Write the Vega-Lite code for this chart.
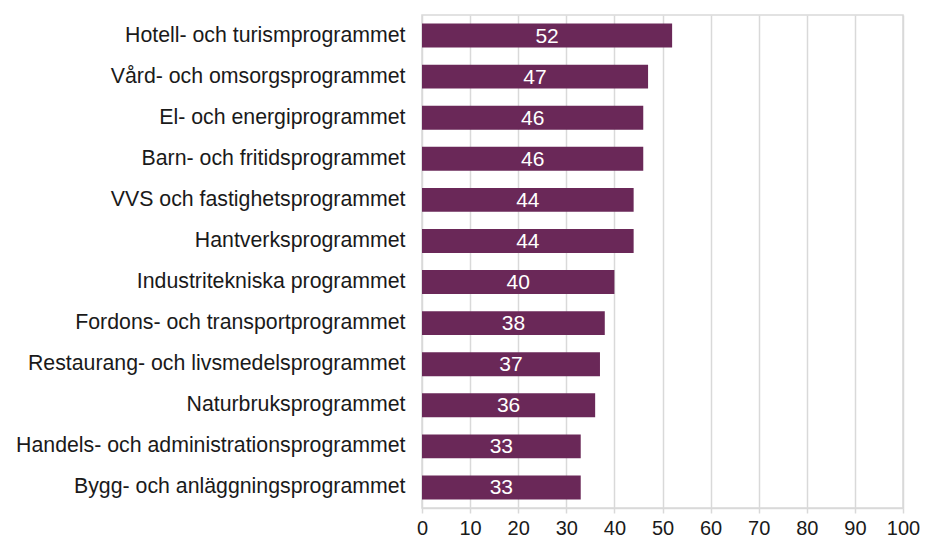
{
  "$schema": "https://vega.github.io/schema/vega-lite/v6.json",
  "width": 481,
  "height": 493,
  "autosize": {"type": "none"},
  "padding": {"left": 422, "top": 15, "right": 26, "bottom": 34},
  "background": "white",
  "config": {
    "font": "Liberation Sans",
    "view": {"stroke": "#d9d9d9", "strokeWidth": 1.5}
  },
  "data": {
    "values": [
      {"program": "Hotell- och turismprogrammet", "value": 52},
      {"program": "Vård- och omsorgsprogrammet", "value": 47},
      {"program": "El- och energiprogrammet", "value": 46},
      {"program": "Barn- och fritidsprogrammet", "value": 46},
      {"program": "VVS och fastighetsprogrammet", "value": 44},
      {"program": "Hantverksprogrammet", "value": 44},
      {"program": "Industritekniska programmet", "value": 40},
      {"program": "Fordons- och transportprogrammet", "value": 38},
      {"program": "Restaurang- och livsmedelsprogrammet", "value": 37},
      {"program": "Naturbruksprogrammet", "value": 36},
      {"program": "Handels- och administrationsprogrammet", "value": 33},
      {"program": "Bygg- och anläggningsprogrammet", "value": 33}
    ]
  },
  "encoding": {
    "y": {
      "field": "program",
      "type": "nominal",
      "sort": null,
      "scale": {"paddingInner": 0.416, "paddingOuter": 0.208},
      "axis": {
        "title": null,
        "domain": false,
        "ticks": false,
        "labelPadding": 17,
        "labelFontSize": 21.3,
        "labelColor": "#1a1a1a",
        "labelLimit": 600
      }
    }
  },
  "resolve": {"scale": {"x": "independent"}},
  "layer": [
    {
      "mark": {"type": "bar", "color": "#6A2858"},
      "encoding": {
        "x": {
          "field": "value",
          "type": "quantitative",
          "scale": {"domain": [0, 100], "nice": false},
          "axis": {
            "title": null,
            "values": [0, 10, 20, 30, 40, 50, 60, 70, 80, 90, 100],
            "grid": true,
            "gridColor": "#d9d9d9",
            "gridWidth": 1.5,
            "domainColor": "#d9d9d9",
            "domainWidth": 1.5,
            "tickColor": "#d9d9d9",
            "tickWidth": 1.5,
            "tickSize": 5,
            "labelPadding": 5,
            "labelFontSize": 20,
            "labelColor": "#1a1a1a",
            "labelFlush": false
          }
        }
      }
    },
    {
      "mark": {"type": "text", "color": "white", "fontSize": 21, "align": "center", "baseline": "middle", "dy": 1},
      "encoding": {
        "x": {
          "field": "value",
          "type": "quantitative",
          "scale": {"domain": [0, 200], "nice": false},
          "axis": null
        },
        "text": {"field": "value", "type": "quantitative"}
      }
    }
  ]
}
